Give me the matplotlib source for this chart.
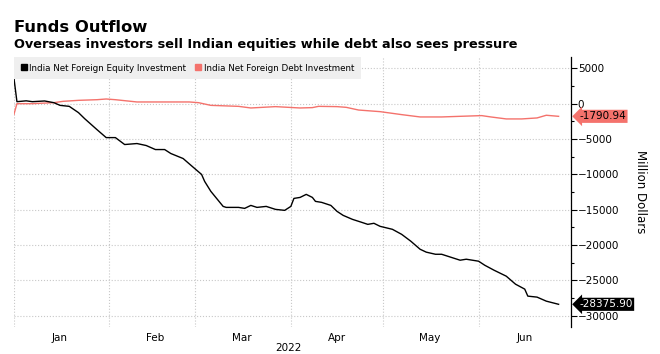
import matplotlib
matplotlib.use("Agg")
import matplotlib.pyplot as plt
import matplotlib.dates as mdates
import numpy as np
import pandas as pd

# values (million USD, cumulative 2022)
eq_dates = ["2022-01-01", "2022-01-02", "2022-01-05", "2022-01-07", "2022-01-11", "2022-01-14",
            "2022-01-16", "2022-01-19", "2022-01-22", "2022-01-24", "2022-01-28", "2022-01-31",
            "2022-02-03", "2022-02-06", "2022-02-10", "2022-02-13", "2022-02-16", "2022-02-19",
            "2022-02-21", "2022-02-25", "2022-02-28", "2022-03-03", "2022-03-04", "2022-03-06",
            "2022-03-10", "2022-03-11", "2022-03-15", "2022-03-17", "2022-03-19", "2022-03-21",
            "2022-03-24", "2022-03-27", "2022-03-30", "2022-04-01", "2022-04-02", "2022-04-04",
            "2022-04-06", "2022-04-08", "2022-04-09", "2022-04-11", "2022-04-14", "2022-04-16",
            "2022-04-18", "2022-04-21", "2022-04-24", "2022-04-26", "2022-04-28", "2022-04-30",
            "2022-05-04", "2022-05-07", "2022-05-10", "2022-05-13", "2022-05-15", "2022-05-18",
            "2022-05-20", "2022-05-23", "2022-05-26", "2022-05-28", "2022-06-01", "2022-06-03",
            "2022-06-06", "2022-06-10", "2022-06-13", "2022-06-16", "2022-06-17", "2022-06-20",
            "2022-06-23", "2022-06-27"]
equity = [3700, 280, 400, 280, 380, 140,
          -240, -380, -1270, -2120, -3670, -4800,
          -4800, -5780, -5640, -5920, -6490, -6490,
          -7050, -7760, -8890, -10010, -11000, -12400,
          -14530, -14670, -14670, -14810, -14390, -14670,
          -14530, -14950, -15090, -14530, -13400, -13260,
          -12830, -13260, -13820, -13960, -14390, -15230,
          -15800, -16360, -16780, -17070, -16920, -17350,
          -17770, -18480, -19460, -20590, -21000, -21300,
          -21300, -21720, -22140, -22000, -22280, -22850,
          -23550, -24400, -25530, -26230, -27220, -27360,
          -27930, -28375.90]

debt_dates = ["2022-01-01", "2022-01-02", "2022-01-07", "2022-01-14", "2022-01-17", "2022-01-22",
              "2022-01-28", "2022-01-31", "2022-02-03", "2022-02-10", "2022-02-19", "2022-02-27",
              "2022-03-02", "2022-03-06", "2022-03-15", "2022-03-19", "2022-03-27", "2022-04-04",
              "2022-04-08", "2022-04-10", "2022-04-16", "2022-04-19", "2022-04-23", "2022-04-30",
              "2022-05-07", "2022-05-13", "2022-05-20", "2022-05-26", "2022-06-02", "2022-06-05",
              "2022-06-10", "2022-06-15", "2022-06-20", "2022-06-23", "2022-06-27"]
debt = [-1550, 0, 0, 140, 330, 470,
        560, 660, 560, 240, 240, 240,
        140, -240, -380, -610, -420, -610,
        -560, -380, -420, -520, -900, -1130,
        -1550, -1880, -1880, -1790, -1690, -1880,
        -2160, -2160, -2020, -1640, -1790.94]

eq_label = "India Net Foreign Equity Investment"
debt_label = "India Net Foreign Debt Investment"
red = "#f4726c"

plt.rcParams['font.family'] = ['DejaVu Sans']

fig = plt.figure(figsize=(6.6, 3.54), dpi=100)
ax = fig.add_axes([0.021, 0.076, 0.844, 0.763])

eq_x = pd.to_datetime(eq_dates)
debt_x = pd.to_datetime(debt_dates)
ax.plot(debt_x, debt, color=red, lw=1.0, label=debt_label)
ax.plot(eq_x, equity, color="black", lw=1.0, label=eq_label)

ax.set_xlim(pd.Timestamp("2022-01-01"), pd.Timestamp("2022-07-01"))
ax.set_ylim(-31600, 6600)

# y axis on the right
ax.yaxis.tick_right()
ax.yaxis.set_label_position("right")
ax.set_yticks(np.arange(-30000, 5001, 5000))
ax.set_yticks(np.arange(-30000, 6000, 2500), minor=True)
ax.tick_params(axis="y", which="major", length=4, width=0.8, labelsize=7.5, pad=1)
ax.tick_params(axis="y", which="minor", length=2.5, width=0.8)
ax.set_ylabel("Million Dollars", rotation=-90, labelpad=20, fontsize=8.5)

# x axis: gridlines at month starts, labels at mid month
ax.xaxis.set_major_locator(mdates.MonthLocator())
ax.xaxis.set_major_formatter(plt.NullFormatter())
ax.xaxis.set_minor_locator(mdates.MonthLocator(bymonthday=16))
ax.xaxis.set_minor_formatter(mdates.DateFormatter("%b"))
ax.tick_params(axis="x", which="both", length=0, labelsize=7.5, pad=4)
ax.text(0.493, -0.078, "2022", transform=ax.transAxes, ha="center", va="center", fontsize=7.5)

ax.grid(True, which="major", color="#c8c8c8", ls=":", lw=0.8)
for s in ["top", "left", "bottom"]:
    ax.spines[s].set_visible(False)
ax.spines["right"].set_linewidth(0.9)

# last value tags
ax.annotate(f"{debt[-1]:.2f}", xy=(1.0, debt[-1]), xycoords=("axes fraction", "data"),
            xytext=(6, 0), textcoords="offset points", ha="left", va="center",
            fontsize=7.5, color="black",
            bbox=dict(boxstyle="larrow,pad=0.15", fc=red, ec="none"), annotation_clip=False)
ax.annotate(f"{equity[-1]:.2f}", xy=(1.0, equity[-1]), xycoords=("axes fraction", "data"),
            xytext=(6, 0), textcoords="offset points", ha="left", va="center",
            fontsize=7.5, color="white",
            bbox=dict(boxstyle="larrow,pad=0.15", fc="black", ec="none"), annotation_clip=False)

# legend band
leg = ax.legend(handles=[plt.Line2D([], [], marker="s", ls="", color="black", ms=5, label=eq_label),
                         plt.Line2D([], [], marker="s", ls="", color=red, ms=5, label=debt_label)],
                loc="upper left", bbox_to_anchor=(0.0, 1.0), ncol=2, fontsize=6.3, frameon=True,
                fancybox=False, handletextpad=0.2, columnspacing=1.0, borderaxespad=0.0,
                handlelength=0.8, borderpad=0.75)
leg.get_frame().set_facecolor("#efefef")
leg.get_frame().set_edgecolor("none")
leg.get_frame().set_alpha(1)

fig.text(0.021, 0.91, "Funds Outflow", fontsize=11.8, fontweight="bold", va="baseline")
fig.text(0.021, 0.864, "Overseas investors sell Indian equities while debt also sees pressure",
         fontsize=9.3, fontweight="bold", va="baseline")

fig.savefig("out.png", dpi=100)
